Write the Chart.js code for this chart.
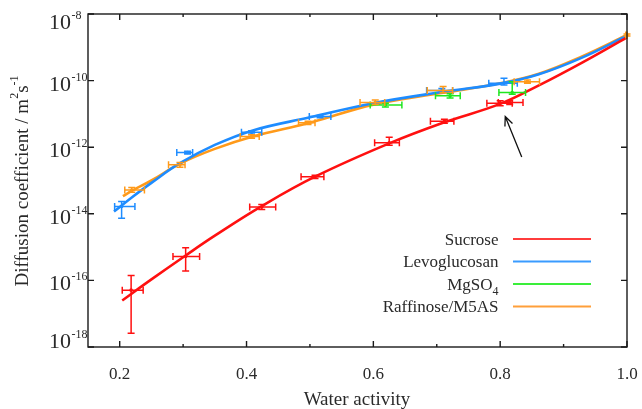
<!DOCTYPE html>
<html><head><meta charset="utf-8">
<script src="https://cdn.jsdelivr.net/npm/chart.js@4/dist/chart.umd.min.js"></script>
<style>html,body{margin:0;padding:0;background:#fff;}canvas{display:block;}</style>
</head><body>
<canvas id="c" width="642" height="409"></canvas>
<script>
// ---- tick labels ----
const xMajorTicks = [0.2, 0.4, 0.6, 0.8, 1.0];
const xTickLabels = ['0.2', '0.4', '0.6', '0.8', '1.0'];
const xMinorTicks = [0.3, 0.5, 0.7, 0.9];
const yTickExponents = [-8, -10, -12, -14, -16, -18];

// ---- Sucrose ----
const sucroseAw   = [0.218, 0.304, 0.424, 0.508, 0.625, 0.712, 0.800, 0.815];
const sucroseD    = [5.1e-17, 5.2e-16, 1.6e-14, 1.3e-13, 1.35e-12, 6.0e-12, 2.1e-11, 2.2e-11];
const sucroseAwLo = [0.204, 0.284, 0.405, 0.486, 0.602, 0.690, 0.779, 0.797];
const sucroseAwHi = [0.237, 0.326, 0.446, 0.522, 0.641, 0.727, 0.819, 0.836];
const sucroseDLo  = [2.6e-18, 1.9e-16, 1.35e-14, 1.15e-13, 1.15e-12, 5.2e-12, 1.75e-11, 1.9e-11];
const sucroseDHi  = [1.4e-16, 9.5e-16, 1.9e-14, 1.45e-13, 2.0e-12, 6.9e-12, 2.5e-11, 2.5e-11];
const sucroseFitAw = [0.204, 0.25, 0.304, 0.35, 0.424, 0.508, 0.625, 0.711, 0.80, 0.861, 0.93, 1.0];
const sucroseFitD  = [2.5e-17, 1.07e-16, 5.6e-16, 2.2e-15, 1.7e-14, 1.3e-13, 1.3e-12, 5.5e-12, 2.0e-11, 7.2e-11, 3.55e-10, 2.0e-9];

// ---- Levoglucosan ----
const levoAw   = [0.203, 0.307, 0.408, 0.516, 0.708, 0.806];
const levoD    = [1.65e-14, 6.9e-13, 2.8e-12, 8.3e-12, 5.0e-11, 8.3e-11];
const levoAwLo = [0.192, 0.290, 0.392, 0.499, 0.684, 0.782];
const levoAwHi = [0.224, 0.315, 0.424, 0.533, 0.725, 0.827];
const levoDLo  = [7.4e-15, 6.3e-13, 2.5e-12, 7.6e-12, 4.4e-11, 7.4e-11];
const levoDHi  = [2.35e-14, 7.5e-13, 3.1e-12, 9.0e-12, 5.8e-11, 1.17e-10];
const levoFitAw = [0.191, 0.22, 0.25, 0.295, 0.35, 0.41, 0.5, 0.6, 0.71, 0.8, 0.861, 0.93, 1.0];
const levoFitD  = [1.17e-14, 3.2e-14, 8.5e-14, 3.3e-13, 1.17e-12, 3.2e-12, 7.9e-12, 2.1e-11, 4.6e-11, 8.1e-11, 1.55e-10, 5.0e-10, 2.24e-9];

// ---- MgSO4 ----
const mgAw   = [0.619, 0.721, 0.819];
const mgD    = [1.86e-11, 3.5e-11, 4.4e-11];
const mgAwLo = [0.595, 0.698, 0.798];
const mgAwHi = [0.645, 0.737, 0.840];
const mgDLo  = [1.6e-11, 3.0e-11, 3.9e-11];
const mgDHi  = [2.1e-11, 4.0e-11, 9.3e-11];

// ---- Raffinose/M5AS ----
const raffAw   = [0.219, 0.295, 0.408, 0.497, 0.603, 0.710, 0.843, 1.0];
const raffD    = [5.2e-14, 2.95e-13, 2.1e-12, 5.4e-12, 2.2e-11, 5.0e-11, 9.3e-11, 2.35e-9];
const raffAwLo = [0.208, 0.277, 0.390, 0.482, 0.579, 0.685, 0.822, 0.998];
const raffAwHi = [0.239, 0.303, 0.420, 0.508, 0.618, 0.725, 0.862, 1.0];
const raffDLo  = [4.4e-14, 2.5e-13, 1.85e-12, 4.8e-12, 1.9e-11, 4.3e-11, 8.3e-11, 2.2e-9];
const raffDHi  = [6.2e-14, 3.5e-13, 2.35e-12, 6.0e-12, 2.6e-11, 6.6e-11, 1.05e-10, 2.5e-9];
const raffFitAw = [0.205, 0.22, 0.25, 0.295, 0.35, 0.41, 0.5, 0.6, 0.71, 0.8, 0.861, 0.93, 1.0];
const raffFitD  = [3.4e-14, 5.0e-14, 1.0e-13, 3.2e-13, 8.9e-13, 2.1e-12, 5.4e-12, 1.9e-11, 4.3e-11, 8.3e-11, 1.6e-10, 5.4e-10, 2.34e-9];

// ---- annotation arrow (data coords) ----
const arrowFrom = [0.834, 5.1e-13];
const arrowTo   = [0.808, 8.3e-12];

const FONT = '"Liberation Serif", "DejaVu Serif", serif';
const TEXT = '#2a2a2a';
const AX = '#1a1a1a';

const pts = (xs, ys) => xs.map((x, i) => ({x: x, y: ys[i]}));

const series = [
  {label: 'Sucrose', color: '#ff1010', legendColor: '#ff3c3c', aw: sucroseAw, d: sucroseD, awLo: sucroseAwLo, awHi: sucroseAwHi, dLo: sucroseDLo, dHi: sucroseDHi, fitAw: sucroseFitAw, fitD: sucroseFitD},
  {label: 'Levoglucosan', color: '#1e8cff', legendColor: '#3a9bff', aw: levoAw, d: levoD, awLo: levoAwLo, awHi: levoAwHi, dLo: levoDLo, dHi: levoDHi, fitAw: levoFitAw, fitD: levoFitD},
  {label: 'MgSO4', color: '#1fe61f', legendColor: '#3aee3a', aw: mgAw, d: mgD, awLo: mgAwLo, awHi: mgAwHi, dLo: mgDLo, dHi: mgDHi, fitAw: null, fitD: null},
  {label: 'Raffinose/M5AS', color: '#ff9a1a', legendColor: '#ff9f3a', aw: raffAw, d: raffD, awLo: raffAwLo, awHi: raffAwHi, dLo: raffDLo, dHi: raffDHi, fitAw: raffFitAw, fitD: raffFitD}
];

const datasets = [];
series.forEach((s) => {
  if (s.fitAw) {
    datasets.push({
      label: s.label + ' fit', data: pts(s.fitAw, s.fitD), showLine: true,
      borderColor: s.color, backgroundColor: s.color, borderWidth: 2.6,
      pointRadius: 0, tension: 0.4, clip: false, order: 1
    });
  }
});
series.forEach((s) => {
  datasets.push({
    label: s.label, data: pts(s.aw, s.d), showLine: false,
    borderColor: s.color, backgroundColor: s.color, pointRadius: 1.8,
    pointBorderWidth: 0, clip: false, order: 2
  });
});

const decorPlugin = {
  id: 'decor',
  afterDatasetsDraw(chart) {
    const ctx = chart.ctx;
    const xs = chart.scales.x, ys = chart.scales.y;
    const ca = chart.chartArea;
    // error bars
    series.forEach((s) => {
      ctx.save();
      ctx.strokeStyle = s.color;
      ctx.lineWidth = 1.5;
      for (let i = 0; i < s.aw.length; i++) {
        const px = xs.getPixelForValue(s.aw[i]);
        const py = ys.getPixelForValue(s.d[i]);
        const xl = xs.getPixelForValue(s.awLo[i]);
        const xh = xs.getPixelForValue(s.awHi[i]);
        const yl = ys.getPixelForValue(s.dLo[i]);
        const yh = ys.getPixelForValue(s.dHi[i]);
        ctx.beginPath();
        ctx.moveTo(xl, py); ctx.lineTo(xh, py);
        ctx.moveTo(xl, py - 3.5); ctx.lineTo(xl, py + 3.5);
        ctx.moveTo(xh, py - 3.5); ctx.lineTo(xh, py + 3.5);
        ctx.moveTo(px, yl); ctx.lineTo(px, yh);
        ctx.moveTo(px - 3.5, yl); ctx.lineTo(px + 3.5, yl);
        ctx.moveTo(px - 3.5, yh); ctx.lineTo(px + 3.5, yh);
        ctx.stroke();
      }
      ctx.restore();
    });

    ctx.save();
    // frame
    ctx.strokeStyle = AX;
    ctx.lineWidth = 1.4;
    ctx.strokeRect(ca.left, ca.top, ca.right - ca.left, ca.bottom - ca.top);
    // ticks
    ctx.beginPath();
    xMajorTicks.forEach((v) => {
      const p = xs.getPixelForValue(v);
      ctx.moveTo(p, ca.bottom); ctx.lineTo(p, ca.bottom - 6);
      ctx.moveTo(p, ca.top); ctx.lineTo(p, ca.top + 6);
    });
    xMinorTicks.forEach((v) => {
      const p = xs.getPixelForValue(v);
      ctx.moveTo(p, ca.bottom); ctx.lineTo(p, ca.bottom - 3);
      ctx.moveTo(p, ca.top); ctx.lineTo(p, ca.top + 3);
    });
    yTickExponents.forEach((e) => {
      const p = ys.getPixelForValue(Math.pow(10, e));
      ctx.moveTo(ca.left, p); ctx.lineTo(ca.left + 6, p);
      ctx.moveTo(ca.right, p); ctx.lineTo(ca.right - 6, p);
    });
    ctx.stroke();

    // x tick labels
    ctx.fillStyle = TEXT;
    ctx.font = '17px ' + FONT;
    ctx.textAlign = 'center';
    ctx.textBaseline = 'alphabetic';
    xMajorTicks.forEach((v, i) => {
      ctx.fillText(xTickLabels[i], xs.getPixelForValue(v), 379);
    });
    // y tick labels 10^e
    yTickExponents.forEach((e, i) => {
      const p = ys.getPixelForValue(Math.pow(10, e));
      let base = p + 10;
      if (i === 0) base = p + 15;
      if (i === yTickExponents.length - 1) base = p + 0.5;
      ctx.font = '22px ' + FONT;
      ctx.textAlign = 'right';
      ctx.fillText('10', 71, base);
      ctx.font = '12px ' + FONT;
      ctx.textAlign = 'left';
      ctx.fillText(String(e), 71.5, base - 10);
    });

    // x title
    ctx.font = '19px ' + FONT;
    ctx.textAlign = 'center';
    ctx.fillText('Water activity', 357, 405);

    // y title (rotated with superscripts)
    ctx.save();
    ctx.translate(28, 181);
    ctx.rotate(-Math.PI / 2);
    const big = '19px ' + FONT, small = '12px ' + FONT;
    const parts = [
      {t: 'Diffusion coefficient / m', f: big, dy: 0},
      {t: '2', f: small, dy: -10},
      {t: 's', f: big, dy: 0},
      {t: '-1', f: small, dy: -10}
    ];
    let total = 0;
    parts.forEach((pt) => { ctx.font = pt.f; pt.w = ctx.measureText(pt.t).width; total += pt.w; });
    let cx = -total / 2;
    ctx.textAlign = 'left';
    parts.forEach((pt) => { ctx.font = pt.f; ctx.fillText(pt.t, cx, pt.dy); cx += pt.w; });
    ctx.restore();

    // legend
    const textRight = 498.5, lineL = 513, lineR = 591;
    series.forEach((s, i) => {
      const base = 244.5 + i * 22.5;
      ctx.textAlign = 'right';
      if (s.label === 'MgSO4') {
        ctx.font = '12px ' + FONT;
        const w4 = ctx.measureText('4').width;
        ctx.fillText('4', textRight, base + 5);
        ctx.font = '17px ' + FONT;
        ctx.fillText('MgSO', textRight - w4, base);
      } else {
        ctx.font = '17px ' + FONT;
        ctx.fillText(s.label, textRight, base);
      }
      ctx.strokeStyle = s.legendColor;
      ctx.lineWidth = 1.8;
      ctx.beginPath();
      ctx.moveTo(lineL, base - 5.5); ctx.lineTo(lineR, base - 5.5);
      ctx.stroke();
    });

    // arrow
    const ax0 = xs.getPixelForValue(arrowFrom[0]), ay0 = ys.getPixelForValue(arrowFrom[1]);
    const ax1 = xs.getPixelForValue(arrowTo[0]), ay1 = ys.getPixelForValue(arrowTo[1]);
    const ang = Math.atan2(ay1 - ay0, ax1 - ax0);
    ctx.strokeStyle = '#111';
    ctx.lineWidth = 1.3;
    ctx.beginPath();
    ctx.moveTo(ax0, ay0); ctx.lineTo(ax1, ay1);
    const hl = 10, ha = 0.42;
    ctx.moveTo(ax1 - hl * Math.cos(ang - ha), ay1 - hl * Math.sin(ang - ha));
    ctx.lineTo(ax1, ay1);
    ctx.lineTo(ax1 - hl * Math.cos(ang + ha), ay1 - hl * Math.sin(ang + ha));
    ctx.stroke();
    ctx.restore();
  }
};

new Chart(document.getElementById('c'), {
  type: 'scatter',
  data: {datasets: datasets},
  options: {
    responsive: false,
    animation: false,
    devicePixelRatio: 1,
    layout: {padding: {left: 0, right: 15, top: 14, bottom: 0}},
    plugins: {legend: {display: false}, tooltip: {enabled: false}},
    scales: {
      x: {
        type: 'linear', min: 0.15, max: 1.0,
        ticks: {display: false}, grid: {display: false}, border: {display: false},
        afterFit: (s) => { s.height = 62; }
      },
      y: {
        type: 'logarithmic', min: 1e-18, max: 1e-8,
        ticks: {display: false}, grid: {display: false}, border: {display: false},
        afterFit: (s) => { s.width = 88; }
      }
    }
  },
  plugins: [decorPlugin]
});
</script>
</body></html>
